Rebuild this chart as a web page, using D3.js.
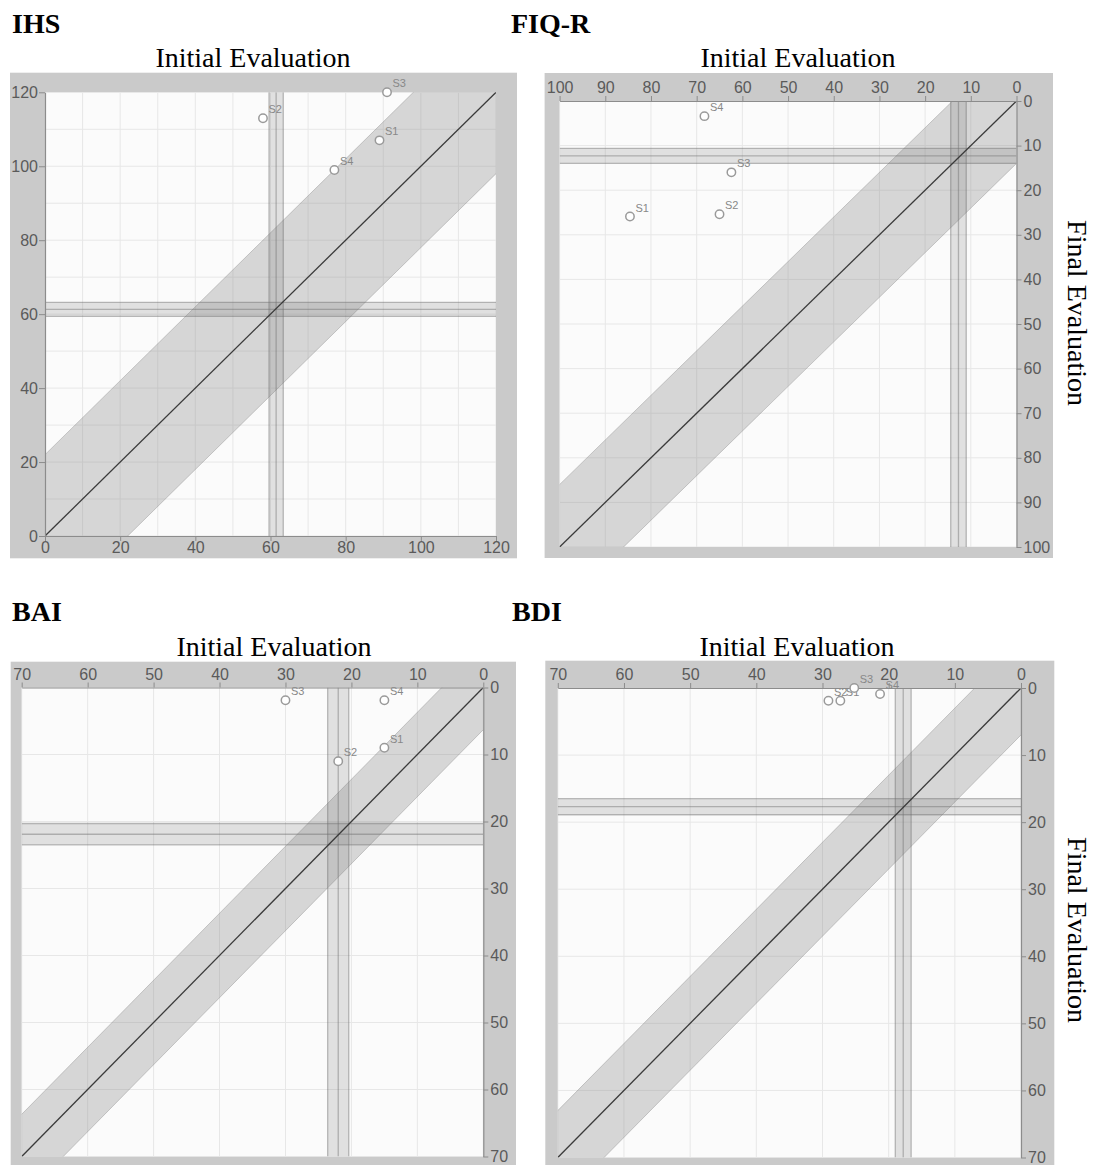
<!DOCTYPE html>
<html><head><meta charset="utf-8">
<script src="https://cdn.jsdelivr.net/npm/d3@7"></script>
<style>body{margin:0;background:#fff}</style>
</head><body>
<svg id="c" width="1096" height="1165"></svg>
<script>
// ---- data ----
const panelNames = ["IHS", "FIQ-R", "BAI", "BDI"];
const subjects = ["S1", "S2", "S3", "S4"];
const axisMax = [120, 100, 70, 70];
const labelStep = [20, 10, 10, 10];
const gridStep = [10, 10, 10, 10];
const ihsInitial = [89, 58, 91, 77];
const ihsFinal = [107, 113, 120, 99];
const fiqrInitial = [84.6, 65, 62.4, 68.3];
const fiqrFinal = [25.9, 25.4, 16, 3.4];
const baiInitial = [15, 22, 30, 15];
const baiFinal = [9, 11, 1.9, 1.9];
const bdiInitial = [27.3, 29.1, 25.2, 21.3];
const bdiFinal = [1.9, 1.9, 0, 0.9];
const rciHalfWidth = [22, 14, 6.3, 7];
const cutInitial = [61.5, 12.7, 22, 17.8];
const cutFinal = [61.3, 12.3, 21.9, 17.7];
const cutHalf = [1.9, 1.7, 1.6, 1.2];
const initialByPanel = [ihsInitial, fiqrInitial, baiInitial, bdiInitial];
const finalByPanel = [ihsFinal, fiqrFinal, baiFinal, bdiFinal];
const xTitle = "Initial Evaluation";
const yTitle = "Final Evaluation";

// ---- layout ----
const layout = [
  {frame:[10,72.7,517,558.3], plot:[45,92.3,496,536], reversed:false, title:[12,33], sub:[253,67], side:null},
  {frame:[544.6,73,1053,558], plot:[559.6,101,1016.5,547], reversed:true, title:[511,33], sub:[798,67], side:[1068,313]},
  {frame:[10.7,661.7,516,1170], plot:[21.7,687.5,483.3,1156.5], reversed:true, title:[12,621], sub:[274,656], side:null},
  {frame:[545.3,660.7,1054.3,1170], plot:[557.8,688,1021,1157.5], reversed:true, title:[512,621], sub:[797,656], side:[1068,930]}
];

const svg = d3.select("#c");
const serif = "'Liberation Serif','Times New Roman',serif";
const sans = "'Liberation Sans',Arial,sans-serif";

panelNames.forEach((name, i) => {
  const L = layout[i];
  const max = axisMax[i];
  const [px0, py0, px1, py1] = L.plot;
  const x = L.reversed ? d3.scaleLinear().domain([max, 0]).range([px0, px1])
                       : d3.scaleLinear().domain([0, max]).range([px0, px1]);
  const y = L.reversed ? d3.scaleLinear().domain([0, max]).range([py0, py1])
                       : d3.scaleLinear().domain([0, max]).range([py1, py0]);
  const g = svg.append("g");

  // titles
  g.append("text").attr("x", L.title[0]).attr("y", L.title[1])
    .style("font-family", serif).style("font-weight", "bold").style("font-size", "28px").text(name);
  g.append("text").attr("x", L.sub[0]).attr("y", L.sub[1]).attr("text-anchor", "middle")
    .style("font-family", serif).style("font-size", "28px").text(xTitle);
  if (L.side) {
    g.append("text").attr("transform", `translate(${L.side[0]},${L.side[1]}) rotate(90)`)
      .attr("text-anchor", "middle")
      .style("font-family", serif).style("font-size", "28px").text(yTitle);
  }

  // frame + plot background
  const [fx0, fy0, fx1, fy1] = L.frame;
  g.append("rect").attr("x", fx0).attr("y", fy0).attr("width", fx1 - fx0).attr("height", fy1 - fy0).attr("fill", "#cacaca");
  g.append("rect").attr("x", px0).attr("y", py0).attr("width", px1 - px0).attr("height", py1 - py0).attr("fill", "#fbfbfb");

  const clipId = "clip" + i;
  svg.append("clipPath").attr("id", clipId).append("rect")
    .attr("x", px0).attr("y", py0).attr("width", px1 - px0).attr("height", py1 - py0);
  const inner = g.append("g").attr("clip-path", `url(#${clipId})`);

  // grid
  const gridVals = d3.range(0, max + 0.001, gridStep[i]);
  inner.selectAll(".gx").data(gridVals).join("line")
    .attr("x1", d => x(d)).attr("x2", d => x(d)).attr("y1", py0).attr("y2", py1)
    .attr("stroke", "#e7e7e7").attr("stroke-width", 1);
  inner.selectAll(".gy").data(gridVals).join("line")
    .attr("y1", d => y(d)).attr("y2", d => y(d)).attr("x1", px0).attr("x2", px1)
    .attr("stroke", "#e7e7e7").attr("stroke-width", 1);

  // reliable change band around identity line
  const b = rciHalfWidth[i];
  const lo = -2 * b, hi = max + 2 * b;
  const band = [[lo, lo - b], [lo, lo + b], [hi, hi + b], [hi, hi - b]];
  const pathOf = d3.line().x(d => x(d[0])).y(d => y(d[1]));
  inner.append("path").attr("d", pathOf(band) + "Z")
    .attr("fill", "rgba(128,128,128,0.30)").attr("stroke", "none");
  [[[lo, lo + b], [hi, hi + b]], [[lo, lo - b], [hi, hi - b]]].forEach(seg => {
    inner.append("path").attr("d", pathOf(seg)).attr("stroke", "rgba(120,120,120,0.35)")
      .attr("stroke-width", 1).attr("fill", "none");
  });

  // cutoff bands (vertical = initial, horizontal = final)
  const ci = cutInitial[i], cf = cutFinal[i], h = cutHalf[i];
  inner.append("rect")
    .attr("x", Math.min(x(ci - h), x(ci + h))).attr("width", Math.abs(x(ci + h) - x(ci - h)))
    .attr("y", py0).attr("height", py1 - py0).attr("fill", "rgba(128,128,128,0.22)");
  inner.append("rect")
    .attr("y", Math.min(y(cf - h), y(cf + h))).attr("height", Math.abs(y(cf + h) - y(cf - h)))
    .attr("x", px0).attr("width", px1 - px0).attr("fill", "rgba(128,128,128,0.22)");
  [ci - h, ci, ci + h].forEach(v => {
    inner.append("line").attr("x1", x(v)).attr("x2", x(v)).attr("y1", py0).attr("y2", py1)
      .attr("stroke", "rgba(110,110,110,0.45)").attr("stroke-width", 1.3);
  });
  [cf - h, cf, cf + h].forEach(v => {
    inner.append("line").attr("y1", y(v)).attr("y2", y(v)).attr("x1", px0).attr("x2", px1)
      .attr("stroke", "rgba(110,110,110,0.45)").attr("stroke-width", 1.3);
  });

  // identity line
  inner.append("line").attr("x1", x(0)).attr("y1", y(0)).attr("x2", x(max)).attr("y2", y(max))
    .attr("stroke", "#3a3a3a").attr("stroke-width", 1.3);

  // axes
  const ticks = d3.range(0, max + 0.001, labelStep[i]);
  let ax, ay;
  if (L.reversed) {
    ax = g.append("g").attr("transform", `translate(0,${py0})`)
      .call(d3.axisTop(x).tickValues(ticks).tickSize(5).tickSizeOuter(0).tickPadding(3).tickFormat(d3.format("d")));
    ay = g.append("g").attr("transform", `translate(${px1},0)`)
      .call(d3.axisRight(y).tickValues(ticks).tickSize(5).tickSizeOuter(0).tickPadding(2).tickFormat(d3.format("d")));
  } else {
    ax = g.append("g").attr("transform", `translate(0,${py1})`)
      .call(d3.axisBottom(x).tickValues(ticks).tickSize(5).tickSizeOuter(0).tickPadding(1).tickFormat(d3.format("d")));
    ay = g.append("g").attr("transform", `translate(${px0},0)`)
      .call(d3.axisLeft(y).tickValues(ticks).tickSize(6).tickSizeOuter(0).tickPadding(1).tickFormat(d3.format("d")));
  }
  [ax, ay].forEach(a => {
    a.select(".domain").attr("stroke", "#8c8c8c").attr("stroke-width", 1.2);
    a.selectAll(".tick line").attr("stroke", "#8c8c8c");
    a.selectAll(".tick text").attr("fill", "#5a5a5a").style("font-family", sans).style("font-size", "16px");
  });

  // subjects
  const ini = initialByPanel[i], fin = finalByPanel[i];
  subjects.forEach((s, k) => {
    const pg = g.append("g");
    pg.append("circle").attr("cx", x(ini[k])).attr("cy", y(fin[k])).attr("r", 4.2)
      .attr("fill", "#fff").attr("stroke", "#9a9a9a").attr("stroke-width", 1.5);
    pg.append("text").attr("x", x(ini[k]) + 5.5).attr("y", y(fin[k]) - 5)
      .attr("fill", "#888").style("font-family", sans).style("font-size", "11px").text(s);
  });
});
</script>
</body></html>
